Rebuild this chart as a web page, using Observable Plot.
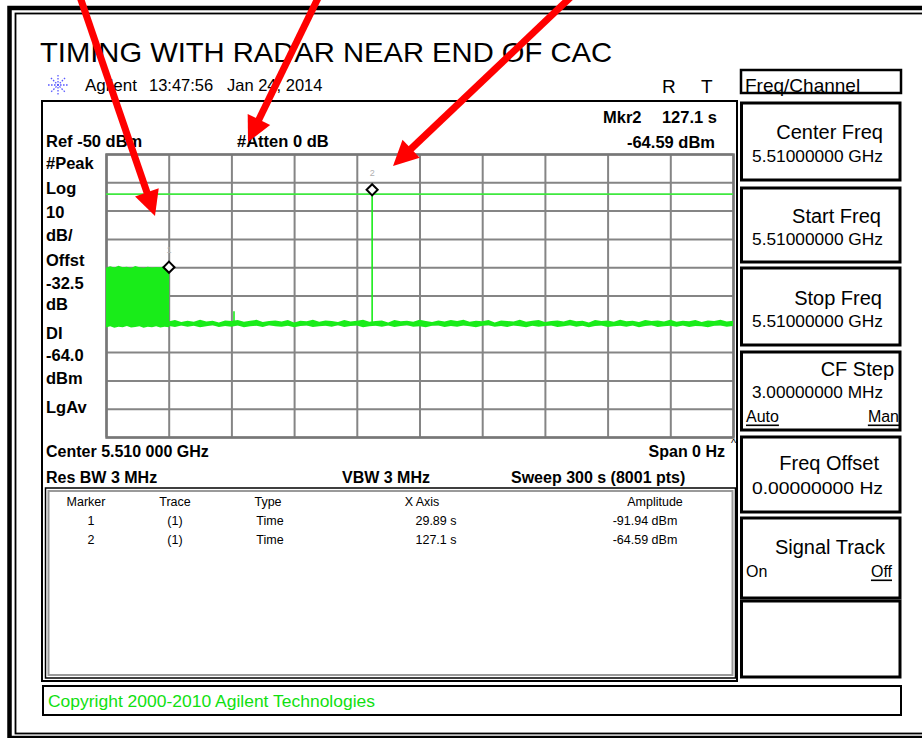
<!DOCTYPE html>
<html><head><meta charset="utf-8">
<script src="https://cdn.jsdelivr.net/npm/d3@7"></script>
<script src="https://cdn.jsdelivr.net/npm/@observablehq/plot@0.6"></script>
<style>
html,body{margin:0;padding:0;background:#fff;}
#wrap{position:relative;width:922px;height:738px;overflow:hidden;}
#wrap svg{position:absolute;left:0;top:0;}
</style></head><body>
<div id="wrap"></div>
<script>
// ---------------- data ----------------
const title = "TIMING WITH RADAR NEAR END OF CAC";
const xTicks = [0, 30, 60, 90, 120, 150, 180, 210, 240, 270, 300];          // seconds (30 s/div)
const yTicks = [-50, -60, -70, -80, -90, -100, -110, -120, -130, -140, -150]; // dBm (10 dB/div)
const xDomain = [0, 300];
const yDomain = [-150, -50];

// radar burst (filled green band at start of sweep)
const burstTime   = [0, 2, 4, 6, 8, 10, 12, 14, 16, 18, 20, 22, 24, 26, 28, 30.2];
const burstTop    = [-90.2, -89.7, -90.1, -89.5, -90.0, -89.8, -90.3, -89.6, -90.0, -90.2, -89.8, -90.1, -89.9, -90.0, -89.7, -90.0];
const burstBottom = [-111.3, -110.9, -111.4, -111.0, -111.2, -110.8, -111.3, -111.1, -110.9, -111.4, -111.0, -111.2, -110.9, -111.3, -111.0, -111.2];

// noise floor after the burst (upper / lower envelope of the fuzzy trace)
const noiseTime = [30.2, 33, 36, 39, 42, 45, 48, 51, 54, 57, 60, 63, 66, 69, 72, 75, 78, 81, 84, 87, 90, 93, 96, 99, 102, 105, 108, 111, 114, 117, 120, 123, 126, 129, 132, 135, 138, 141, 144, 147, 150, 153, 156, 159, 162, 165, 168, 171, 174, 177, 180, 183, 186, 189, 192, 195, 198, 201, 204, 207, 210, 213, 216, 219, 222, 225, 228, 231, 234, 237, 240, 243, 246, 249, 252, 255, 258, 261, 264, 267, 270, 273, 276, 279, 282, 285, 288, 291, 294, 297, 300];
const noiseHigh = [
  -109.1, -108.7, -109.4, -108.9, -109.3, -108.6, -109.2, -108.9, -109.5, -108.8,
  -109.0, -108.7, -109.3, -108.9, -108.6, -109.4, -109.0, -108.8, -109.2, -108.7,
  -109.5, -108.9, -109.1, -108.6, -109.3, -108.8, -109.0, -109.4, -108.7, -109.2,
  -108.9, -108.6, -109.3, -109.0, -108.8, -109.5, -108.7, -109.1, -108.9, -109.3,
  -108.6, -109.0, -109.4, -108.8, -109.2, -108.7, -109.0, -108.6, -109.3, -108.9,
  -109.1, -108.7, -109.5, -108.8, -109.0, -109.2, -108.6, -109.3, -108.9, -108.7,
  -109.4, -109.0, -108.8, -109.2, -108.6, -109.1, -108.9, -109.5, -108.7, -109.0,
  -108.8, -109.3, -108.6, -109.1, -108.9, -109.4, -108.7, -109.0, -108.8, -109.2,
  -108.6, -109.3, -108.9, -109.1, -108.7, -109.4, -108.8, -109.0, -108.6, -109.2,
  -108.9];
const noiseLow = [
  -110.8, -111.1, -110.6, -111.0, -110.7, -111.2, -110.9, -110.5, -111.1, -110.8,
  -111.0, -110.6, -111.2, -110.9, -110.7, -111.1, -110.5, -110.9, -111.0, -110.7,
  -111.2, -110.8, -110.6, -111.1, -110.9, -110.7, -111.0, -110.5, -111.1, -110.8,
  -110.6, -111.2, -110.9, -110.7, -111.0, -110.6, -111.1, -110.8, -110.5, -111.0,
  -110.9, -111.2, -110.7, -110.6, -111.1, -110.8, -111.0, -110.6, -110.9, -111.2,
  -110.7, -110.5, -111.0, -110.8, -111.1, -110.6, -110.9, -111.2, -110.7, -111.0,
  -110.8, -110.6, -111.1, -110.9, -110.5, -111.0, -110.7, -111.2, -110.8, -110.6,
  -111.1, -110.9, -110.7, -111.0, -110.6, -111.2, -110.8, -110.5, -111.1, -110.9,
  -110.7, -111.0, -110.6, -111.1, -110.8, -110.9, -111.2, -110.7, -110.6, -111.0,
  -110.8];
const noiseFloor = -110;

// narrow pulses (small glitch and the radar pulse under marker 2)
const spikeTime  = [61, 127.1];
const spikeLevel = [-105.6, -64.59];

const displayLine = [-64.0];

// markers
const markerId   = ["1", "2"];
const markerTime = [29.89, 127.1];
const markerAmp  = [-91.94, -64.59];

// ---------------- layout helpers ----------------
const FONT = '"Liberation Sans", Arial, Helvetica, sans-serif';
const GREEN = "#19ec19";
const wrap = d3.select("#wrap");
const bg = wrap.append("svg").attr("width", 922).attr("height", 738);

function T(x, y, s, o = {}) {
  const t = bg.append("text").attr("x", x).attr("y", y).text(s)
    .attr("dominant-baseline", "central")
    .attr("font-family", FONT)
    .attr("font-size", o.size || 16)
    .attr("font-weight", o.bold ? "bold" : "normal")
    .attr("text-anchor", o.anchor || "start")
    .attr("fill", o.fill || "#000");
  if (o.len) t.attr("textLength", o.len).attr("lengthAdjust", "spacingAndGlyphs");
  if (o.underline) t.attr("text-decoration", "underline");
  return t;
}
function R(x, y, w, h, o = {}) {
  bg.append("rect").attr("x", x).attr("y", y).attr("width", w).attr("height", h)
    .attr("fill", o.fill || "none").attr("stroke", o.stroke || "#000").attr("stroke-width", o.sw || 2);
}

// outer double frame
R(9.5, 8, 1000, 730, {sw: 4.5});
R(15.5, 13.5, 1000, 720, {sw: 1.8});

// title + header line
T(40, 52, title, {size: 28, len: 572});
// Agilent spark logo
[0, 45, 90, 135].forEach(a => {
  const r = a * Math.PI / 180, L = 10;
  bg.append("line")
    .attr("x1", 58 - L * Math.cos(r)).attr("y1", 85 - L * Math.sin(r))
    .attr("x2", 58 + L * Math.cos(r)).attr("y2", 85 + L * Math.sin(r))
    .attr("stroke", "#5a5aff").attr("stroke-width", 1.3).attr("stroke-dasharray", "1.6,1.4");
});
T(85, 85, "Agilent", {size: 17});
T(149, 85, "13:47:56", {size: 16.5});
T(227, 85, "Jan 24, 2014", {size: 16.5});
T(662, 86, "R", {size: 19});
T(701, 86, "T", {size: 19});

// screen box
R(42, 101, 695, 580, {sw: 2});

// readouts (bold)
T(603, 117, "Mkr2", {size: 16.5, bold: true});
T(717, 117, "127.1 s", {size: 16.5, bold: true, anchor: "end"});
T(715, 142, "-64.59 dBm", {size: 16.5, bold: true, anchor: "end"});
T(46, 141, "Ref -50 dBm", {size: 16.5, bold: true});
T(237, 141, "#Atten 0 dB", {size: 16.5, bold: true});
const leftLabels = ["#Peak", "Log", "10", "dB/", "Offst", "-32.5", "dB", "DI", "-64.0", "dBm", "LgAv"];
const leftY = [163, 188, 212, 235, 260, 283, 304, 333, 355, 378, 407];
leftLabels.forEach((s, i) => T(46, leftY[i], s, {size: 16.5, bold: true}));

T(46, 451, "Center 5.510 000 GHz", {size: 16, bold: true});
T(725, 451, "Span 0 Hz", {size: 16, bold: true, anchor: "end"});
T(731, 443, "^", {size: 11});
T(46, 477, "Res BW 3 MHz", {size: 16, bold: true});
T(342, 477, "VBW 3 MHz", {size: 16, bold: true});
T(511, 477, "Sweep 300 s (8001 pts)", {size: 16, bold: true});

// marker table
R(45.5, 488, 690, 190, {sw: 1.5});
R(48.5, 491, 684, 184, {sw: 2, stroke: "#9a9a9a"});
const colX = [86, 175, 268, 422, 655];
["Marker", "Trace", "Type", "X Axis", "Amplitude"].forEach((s, i) => T(colX[i], 502, s, {size: 12.5, anchor: "middle"}));
markerId.forEach((id, i) => {
  const y = 521 + i * 19;
  T(91, y, id, {size: 12.5, anchor: "middle"});
  T(175, y, "(1)", {size: 12.5, anchor: "middle"});
  T(270, y, "Time", {size: 12.5, anchor: "middle"});
  T(436, y, markerTime[i] + " s", {size: 12.5, anchor: "middle"});
  T(645, y, markerAmp[i] + " dBm", {size: 12.5, anchor: "middle"});
});

// copyright
R(43, 686, 858, 29, {sw: 2});
T(48, 701, "Copyright 2000-2010 Agilent Technologies", {size: 17, fill: "#10e010", len: 327});

// softkeys
R(741, 70, 160, 23, {sw: 2.5});
T(745, 85, "Freq/Channel", {size: 19});
const keys = [
  {top: 103, bot: 180, title: "Center Freq", tx: 883, ty: 132, val: "5.51000000 GHz", vy: 156},
  {top: 188, bot: 262, title: "Start Freq", tx: 881, ty: 216, val: "5.51000000 GHz", vy: 239},
  {top: 268, bot: 345, title: "Stop Freq", tx: 882, ty: 298, val: "5.51000000 GHz", vy: 321},
  {top: 352, bot: 430, title: "CF Step", tx: 894, ty: 369, val: "3.00000000 MHz", vy: 392},
  {top: 437, bot: 512, title: "Freq Offset", tx: 879, ty: 463, val: "0.00000000  Hz", vy: 488},
  {top: 518, bot: 598, title: "Signal Track", tx: 885, ty: 547, val: null},
  {top: 601, bot: 677, title: null}
];
keys.forEach(k => {
  R(741.5, k.top, 158.5, k.bot - k.top, {sw: 3});
  if (k.title) T(k.tx, k.ty, k.title, {size: 20, anchor: "end"});
  if (k.val) T(752, k.vy, k.val, {size: 16.5, len: 131});
});
T(746, 416, "Auto", {size: 16, underline: true});
T(899, 416, "Man", {size: 16, anchor: "end", underline: true});
T(746, 571, "On", {size: 16});
T(892, 571, "Off", {size: 16, anchor: "end", underline: true});

// ---------------- the chart (Observable Plot) ----------------
const burst = burstTime.map((t, i) => ({t, hi: burstTop[i], lo: burstBottom[i]}));
const noise = noiseTime.map((t, i) => ({t, hi: noiseHigh[i], lo: noiseLow[i]}));
const spikes = spikeTime.map((t, i) => ({t, v: spikeLevel[i], base: noiseFloor}));
const markers = markerId.map((id, i) => ({id, t: markerTime[i], v: markerAmp[i]}));

const chart = Plot.plot({
  width: 922, height: 738,
  marginLeft: 106, marginRight: 189, marginTop: 154, marginBottom: 301,
  x: {domain: xDomain, axis: null},
  y: {domain: yDomain, axis: null},
  style: {background: "transparent", overflow: "visible", fontFamily: FONT},
  marks: [
    Plot.gridX(xTicks, {stroke: "#858585", strokeOpacity: 1, strokeWidth: 2}),
    Plot.gridY(yTicks, {stroke: "#858585", strokeOpacity: 1, strokeWidth: 2}),
    Plot.frame({stroke: "#777", strokeWidth: 2.5}),
    Plot.ruleY(displayLine, {stroke: "#3fe83f", strokeWidth: 1.6}),
    Plot.areaY(burst, {x: "t", y1: "lo", y2: "hi", fill: GREEN}),
    Plot.areaY(noise, {x: "t", y1: "lo", y2: "hi", fill: GREEN}),
    Plot.ruleX(spikes, {x: "t", y1: "base", y2: "v", stroke: GREEN, strokeWidth: 1.6}),
    Plot.dot(markers, {x: "t", y: "v", symbol: "diamond2", r: 5, stroke: "#000", strokeWidth: 2, fill: "#fff", dy: -6}),
    Plot.text(markers, {x: "t", y: "v", text: "id", dy: -23, fill: "#b0b0b0", fontSize: 9})
  ]
});
wrap.node().appendChild(chart);

// ---------------- red annotation arrows (pixel overlay) ----------------
const arrows = [
  {x1: 79, y1: -6, x2: 155, y2: 216},
  {x1: 320, y1: -6, x2: 248, y2: 142},
  {x1: 574, y1: -6, x2: 393, y2: 166}
];
const ov = wrap.append("svg").attr("width", 922).attr("height", 738);
arrows.forEach(a => {
  const dx = a.x2 - a.x1, dy = a.y2 - a.y1, L = Math.hypot(dx, dy);
  const ux = dx / L, uy = dy / L, nx = -uy, ny = ux;
  const HL = 25, HW = 12.5;
  const bx = a.x2 - ux * HL, by = a.y2 - uy * HL;
  ov.append("line").attr("x1", a.x1).attr("y1", a.y1).attr("x2", bx + ux * 2).attr("y2", by + uy * 2)
    .attr("stroke", "#ff0000").attr("stroke-width", 7);
  ov.append("polygon")
    .attr("points", [[a.x2, a.y2], [bx + nx * HW, by + ny * HW], [bx - nx * HW, by - ny * HW]].map(p => p.join(",")).join(" "))
    .attr("fill", "#ff0000");
});
</script>
</body></html>
